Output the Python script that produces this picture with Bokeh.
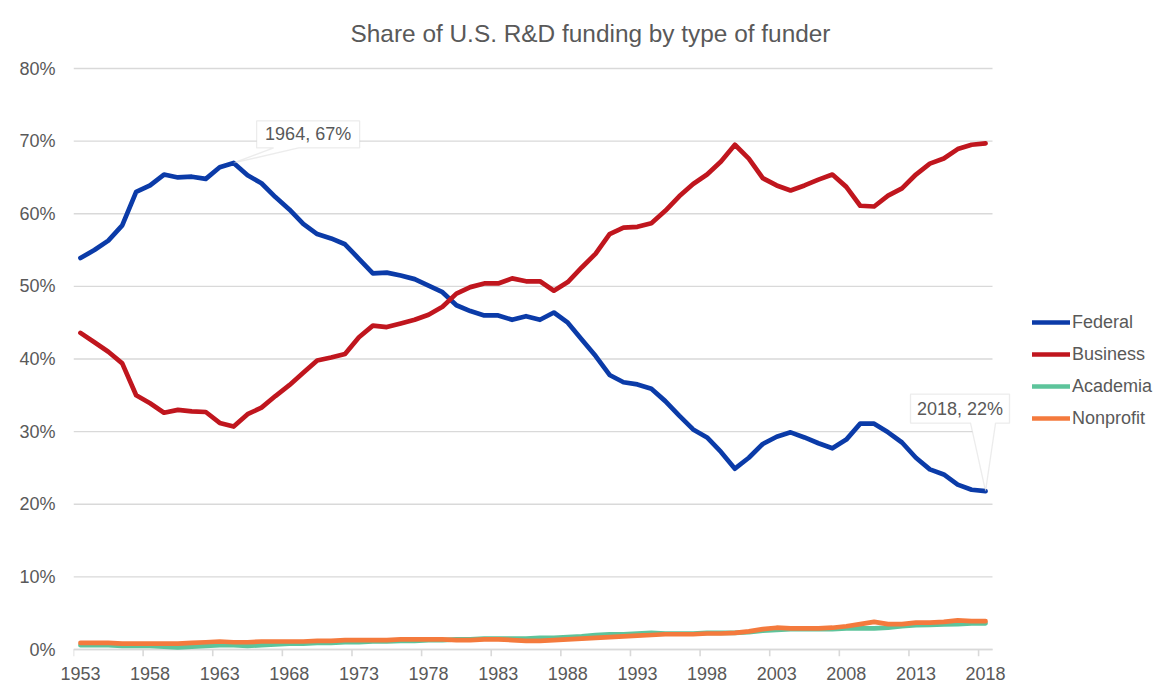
from bokeh.plotting import figure
from bokeh.models import (FixedTicker, PrintfTickFormatter, LinearAxis, Legend, LegendItem,
                          Label, PolyAnnotation, Range1d)
from bokeh.embed import file_html
from bokeh.resources import INLINE

# ---------------- data ----------------
years = list(range(1953, 2019))

federal = [53.9, 55.0, 56.3, 58.4, 63.0, 63.9, 65.4, 65.0, 65.1, 64.8,
           66.4, 67.0, 65.3, 64.2, 62.3, 60.6, 58.6, 57.2, 56.6, 55.8,
           53.8, 51.8, 51.9, 51.5, 51.0, 50.1, 49.2, 47.4, 46.6, 46.0,
           46.0, 45.4, 45.9, 45.4, 46.4, 45.0, 42.7, 40.4, 37.8, 36.8,
           36.5, 35.9, 34.2, 32.2, 30.3, 29.2, 27.2, 24.9, 26.4, 28.3,
           29.3, 29.9, 29.2, 28.4, 27.7, 28.9, 31.1, 31.1, 29.9, 28.5,
           26.4, 24.8, 24.1, 22.7, 22.0, 21.8]

business = [43.6, 42.3, 41.0, 39.4, 35.0, 33.9, 32.6, 33.0, 32.8, 32.7,
            31.2, 30.7, 32.4, 33.3, 34.9, 36.4, 38.1, 39.8, 40.2, 40.7,
            43.0, 44.6, 44.4, 44.9, 45.4, 46.1, 47.2, 49.0, 49.9, 50.4,
            50.4, 51.1, 50.7, 50.7, 49.4, 50.6, 52.6, 54.5, 57.2, 58.1,
            58.2, 58.7, 60.4, 62.4, 64.1, 65.4, 67.2, 69.5, 67.6, 64.9,
            63.9, 63.2, 63.9, 64.7, 65.4, 63.7, 61.1, 61.0, 62.5, 63.5,
            65.4, 66.9, 67.6, 68.9, 69.5, 69.7]

academia = [0.6, 0.6, 0.6, 0.5, 0.5, 0.5, 0.4, 0.3, 0.4, 0.5,
            0.6, 0.6, 0.5, 0.6, 0.7, 0.8, 0.8, 0.9, 0.9, 1.0,
            1.0, 1.1, 1.1, 1.2, 1.2, 1.3, 1.3, 1.4, 1.4, 1.5,
            1.5, 1.5, 1.5, 1.6, 1.6, 1.7, 1.8, 2.0, 2.1, 2.1,
            2.2, 2.3, 2.2, 2.2, 2.2, 2.3, 2.3, 2.3, 2.4, 2.6,
            2.7, 2.8, 2.8, 2.8, 2.8, 2.9, 2.9, 2.9, 3.0, 3.2,
            3.35, 3.4, 3.45, 3.5, 3.6, 3.6]

nonprofit = [0.9, 0.9, 0.9, 0.8, 0.8, 0.8, 0.8, 0.8, 0.9, 1.0,
             1.1, 1.0, 1.0, 1.1, 1.1, 1.1, 1.1, 1.2, 1.2, 1.3,
             1.3, 1.3, 1.3, 1.4, 1.4, 1.4, 1.4, 1.3, 1.3, 1.4,
             1.4, 1.3, 1.2, 1.2, 1.3, 1.4, 1.5, 1.6, 1.7, 1.8,
             1.9, 2.0, 2.1, 2.1, 2.1, 2.2, 2.2, 2.3, 2.5, 2.8,
             3.0, 2.9, 2.9, 2.9, 3.0, 3.2, 3.5, 3.8, 3.5, 3.5,
             3.7, 3.7, 3.8, 4.0, 3.9, 3.9]

series_names = ["Federal", "Business", "Academia", "Nonprofit"]
series_values = [federal, business, academia, nonprofit]
series_colors = ["#0B3BA8", "#C0161E", "#5DC49B", "#F47A3D"]

x_label_years = years[::5]                        # 1953, 1958, ... 2018
x_tick_bounds = [y - 0.5 for y in x_label_years]  # ticks between categories
y_ticks = [0, 10, 20, 30, 40, 50, 60, 70, 80]

title_text = "Share of U.S. R&D funding by type of funder"
callouts = [(1964, "1964, 67%"), (2018, "2018, 22%")]

# ---------------- layout ----------------
FONT = "Liberation Sans"
TXT = "#595959"
GRID = "#d9d9d9"
W, H = 1160, 690
# pixel box of the chart's plot area
AX_L, AX_R, AX_T, AX_B = 73, 992, 68, 649
TICK_LEN = 7
ML, MT, MR = AX_L, 2, 2
MB = H - (AX_B + TICK_LEN)
FRAME_W = W - ML - MR

x0, x_end = years[0] - 0.5, years[-1] + 0.5
y_bot, y_top = 0, 80
KX = (AX_R - AX_L) / (x_end - x0)       # px per year
KY = (AX_B - AX_T) / (y_top - y_bot)    # px per percent point
x1 = x0 + FRAME_W / KX
y0 = y_bot - TICK_LEN / KY
y1 = y_top + (AX_T - MT) / KY

p = figure(width=W, height=H, output_backend="svg", toolbar_location=None,
           x_range=Range1d(x0, x1), y_range=Range1d(y0, y1),
           x_axis_type=None, y_axis_type=None,
           min_border_left=ML, min_border_right=MR,
           min_border_top=MT, min_border_bottom=MB)
p.outline_line_color = None
p.background_fill_color = "white"
p.border_fill_color = "white"

# horizontal gridlines limited to the plot area
p.segment(x0=[x0] * len(y_ticks), x1=[x_end] * len(y_ticks), y0=y_ticks, y1=y_ticks,
          line_color=GRID, line_width=1.4)
# category axis line and tick marks between categories
p.segment(x0=[x0], x1=[x_end], y0=[y_bot], y1=[y_bot], line_color=GRID, line_width=1.7)
p.segment(x0=x_tick_bounds, x1=x_tick_bounds, y0=[y_bot] * len(x_tick_bounds),
          y1=[y0] * len(x_tick_bounds), line_color=GRID, line_width=1.6)

# y axis
yaxis = LinearAxis(ticker=FixedTicker(ticks=y_ticks),
                   formatter=PrintfTickFormatter(format="%d%%"))
yaxis.axis_line_color = None
yaxis.major_tick_line_color = None
yaxis.minor_tick_line_color = None
yaxis.major_label_standoff = 12
yaxis.major_label_text_font = FONT
yaxis.major_label_text_font_size = "18px"
yaxis.major_label_text_color = TXT
p.add_layout(yaxis, "left")

# x labels centred on categories
xaxis_lab = LinearAxis(ticker=FixedTicker(ticks=x_label_years),
                       formatter=PrintfTickFormatter(format="%d"))
xaxis_lab.axis_line_color = None
xaxis_lab.major_tick_line_color = None
xaxis_lab.minor_tick_line_color = None
xaxis_lab.major_label_standoff = 4
xaxis_lab.major_label_text_font = FONT
xaxis_lab.major_label_text_font_size = "18px"
xaxis_lab.major_label_text_color = TXT
p.add_layout(xaxis_lab, "below")

# lines
items = []
for name, vals, col in zip(series_names, series_values, series_colors):
    r = p.line(years, vals, line_color=col, line_width=4.7,
               line_join="round", line_cap="round")
    items.append(LegendItem(label=name, renderers=[r]))

legend = Legend(items=items, location=(1032 - AX_L, AX_B + TICK_LEN - 434),
                orientation="vertical",
                padding=0, margin=0, spacing=0,
                glyph_width=38, glyph_height=32, label_height=32,
                label_standoff=2, border_line_color=None,
                background_fill_alpha=0,
                label_text_font=FONT, label_text_font_size="18px",
                label_text_color=TXT)
p.add_layout(legend)

# title
p.add_layout(Label(x=x0 + (590 - AX_L) / KX, y=y_top + 35 / KY, text=title_text,
                   text_align="center", text_baseline="middle",
                   text_font=FONT, text_font_size="24.4px", text_color=TXT))

# callouts (pixel offsets from the data point: left, right, top, bottom, wedge l, wedge r)
shapes = {1964: (23, 126, 42, 15, 40, 65),
          2018: (-75, 24, 97, 68, -15, 10)}
for yr, txt in callouts:
    xv = yr
    yv = federal[years.index(yr)]
    l, r_, t, b, wl, wr = shapes[yr]
    fx = lambda px: xv + px / KX
    fy = lambda py: yv + py / KY
    xs = [fx(l), fx(l), fx(r_), fx(r_), fx(wr), xv, fx(wl)]
    ys = [fy(b), fy(t), fy(t), fy(b), fy(b), yv, fy(b)]
    p.add_layout(PolyAnnotation(xs=xs, ys=ys, fill_color="white", fill_alpha=1,
                                line_color="#bfbfbf", line_width=1.3))
    p.add_layout(Label(x=fx((l + r_) / 2), y=fy((t + b) / 2), text=txt,
                       text_align="center", text_baseline="middle",
                       text_font=FONT, text_font_size="18px", text_color=TXT))

open("out.html", "w").write(file_html(p, INLINE))
